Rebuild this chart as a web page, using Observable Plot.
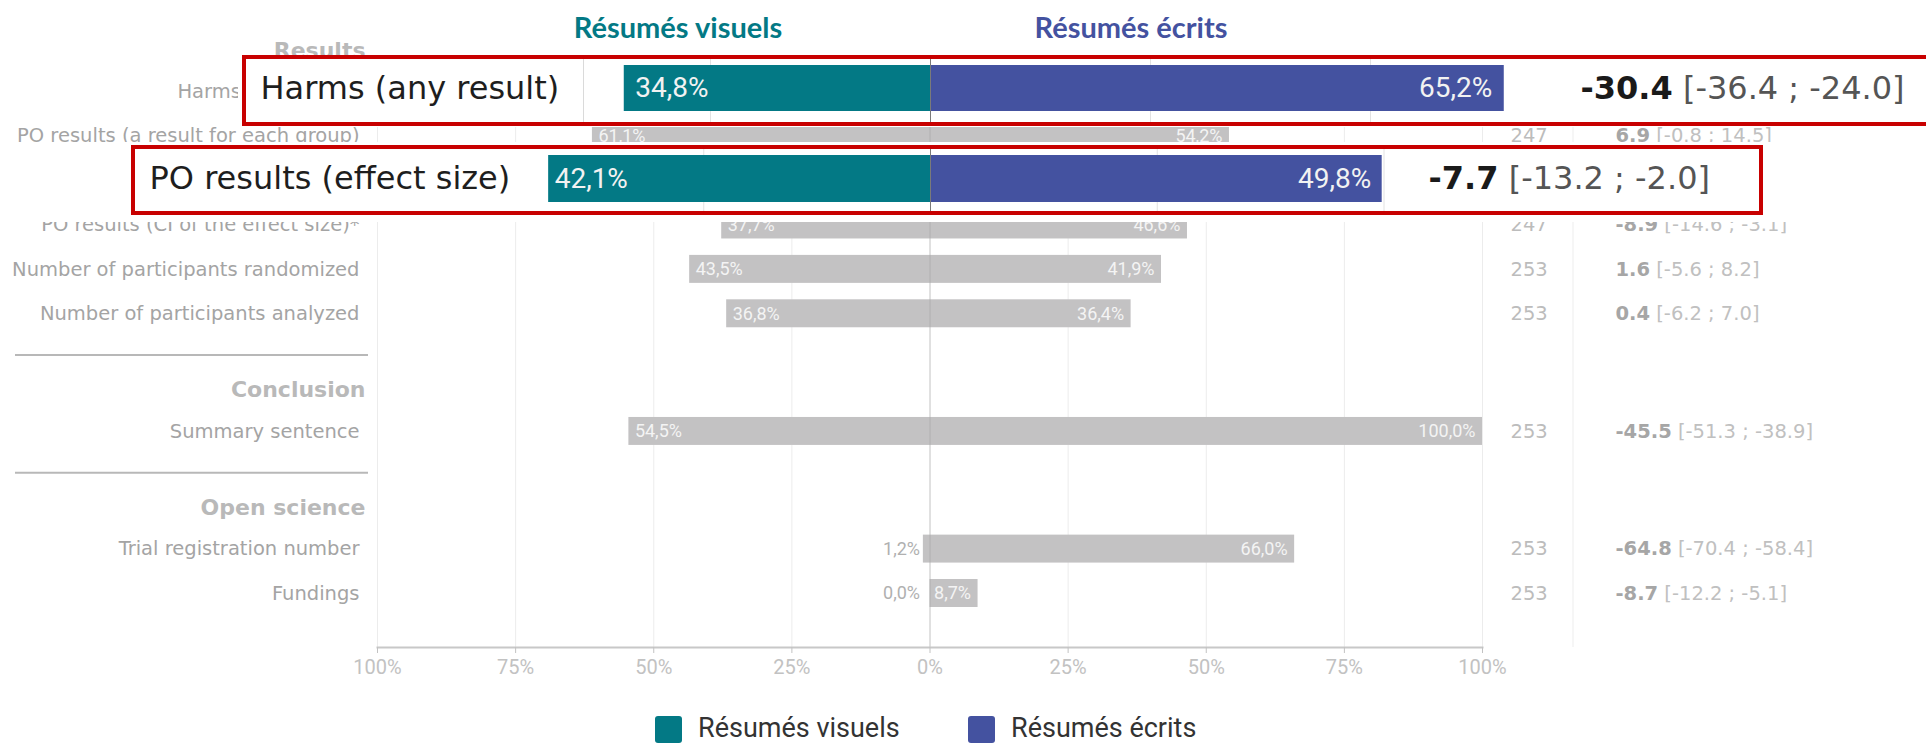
<!DOCTYPE html>
<html>
<head>
<meta charset="utf-8">
<script src="https://cdn.jsdelivr.net/npm/d3@7"></script>
<script src="https://cdn.jsdelivr.net/npm/@observablehq/plot@0.6"></script>
<style>
  html, body { margin: 0; padding: 0; background: #fff; overflow: hidden; }
  #page { position: relative; width: 1926px; height: 743px; overflow: hidden; }
  .abs { position: absolute; }
  .title { position: absolute; top: 11px; font-family: Lato, "Open Sans", sans-serif; font-weight: 700; font-size: 29px; line-height: 32px; transform: translateX(-50%); white-space: nowrap; }
  .legtext { position: absolute; top: 14px; font-family: Roboto, sans-serif; font-size: 27px; line-height: 28px; color: #333; white-space: nowrap; }
  .legsq { position: absolute; top: 16px; width: 27px; height: 27px; border-radius: 3px; }
</style>
</head>
<body>
<div id="page">
  <div id="titles" class="abs" style="left:0;top:0;width:1926px;height:40px;"></div>
  <div id="main" class="abs" style="left:0;top:40px;"></div>
  <div id="overlays"></div>
  <div id="legend" class="abs" style="left:0;top:700px;width:1926px;height:43px;"></div>
</div>
<script>
// ---------------- data ----------------
const seriesNames = ["Résumés visuels", "Résumés écrits"];
const sections = ["Results", "Conclusion", "Open science"];
const rowLabels = [
  "Harms (any result)",
  "PO results (a result for each group)",
  "PO results (effect size)",
  "PO results (CI of the effect size)*",
  "Number of participants randomized",
  "Number of participants analyzed",
  "Summary sentence",
  "Trial registration number",
  "Fundings"
];
const rowSection = ["Results", "Results", "Results", "Results", "Results", "Results", "Conclusion", "Open science", "Open science"];
const visuels = [34.8, 61.1, 42.1, 37.7, 43.5, 36.8, 54.5, 1.2, 0.0];
const ecrits  = [65.2, 54.2, 49.8, 46.6, 41.9, 36.4, 100.0, 66.0, 8.7];
const nTotal  = [245, 247, 247, 247, 253, 253, 253, 253, 253];
const diffs   = [-30.4, 6.9, -7.7, -8.9, 1.6, 0.4, -45.5, -64.8, -8.7];
const ciLow   = [-36.4, -0.8, -13.2, -14.6, -5.6, -6.2, -51.3, -70.4, -12.2];
const ciHigh  = [-24.0, 14.5, -2.0, -3.1, 8.2, 7.0, -38.9, -58.4, -5.1];
const highlighted = ["Harms (any result)", "PO results (effect size)"];
const xTicks = [-100, -75, -50, -25, 0, 25, 50, 75, 100];

// ---------------- styles ----------------
const teal = "#037985", blue = "#4452a0";
const verdana = "'DejaVu Sans', Verdana, sans-serif";
const narrow = "Roboto, sans-serif";
const fmtPct = v => v.toFixed(1).replace(".", ",") + "%";
const fmtNum = v => v.toFixed(1);

// ---------------- layout of rows (slot units) ----------------
const HEADER_TO_ROW = 0.93, ROW_STEP = 1, ROW_TO_SEP = 0.94, SEP_TO_HEADER = 0.78;
let pos = 0;
const headerRows = [], sepSlots = [];
const rows = [];
sections.forEach((s, si) => {
  if (si > 0) { pos += ROW_TO_SEP; sepSlots.push(pos); pos += SEP_TO_HEADER; }
  headerRows.push({section: s, slot: pos});
  let first = true;
  rowLabels.forEach((label, i) => {
    if (rowSection[i] !== s) return;
    pos += first ? HEADER_TO_ROW : ROW_STEP;
    first = false;
    rows.push({label, v: visuels[i], e: ecrits[i], n: nTotal[i], diff: diffs[i], lo: ciLow[i], hi: ciHigh[i], slot: pos});
  });
});
const lastSlot = pos;
const BAR = 0.315;

// rows whose texts are hidden behind a highlight box are drawn in the box instead
const plain = rows.filter(d => !highlighted.includes(d.label));
const labelRows = rows.filter(d => d.label !== highlighted[1]);

// ---------------- titles ----------------
const titles = d3.select("#titles");
[[seriesNames[0], teal, 678], [seriesNames[1], blue, 1131]].forEach(([t, c, x]) => {
  titles.append("div").attr("class", "title").style("left", x + "px").style("color", c).text(t);
});

// ---------------- main chart ----------------
const W = 1926, H = 660;
const leftLabels = plain.filter(d => d.v >= 5);
const outsideLabels = plain.filter(d => d.v < 5);

const main = Plot.plot({
  width: W, height: H,
  marginLeft: 377, marginRight: 444, marginTop: 15, marginBottom: 53,
  x: {domain: [-100, 100], axis: null},
  y: {domain: [0, lastSlot], range: [10, 553], axis: null},
  style: {background: "transparent", fontFamily: narrow, overflow: "visible"},
  marks: [
    Plot.gridX(xTicks.filter(t => t !== 0), {stroke: "#ececec", strokeOpacity: 1}),
    Plot.rectX(rows, {x1: d => -d.v, x2: d => d.e, y1: d => d.slot - BAR, y2: d => d.slot + BAR, fill: "#c3c2c3"}),
    Plot.ruleX([0], {stroke: "#a8a8a8", strokeOpacity: 0.7}),
    Plot.frame({anchor: "bottom", stroke: "#c8c8c8", strokeWidth: 2}),
    Plot.axisX(xTicks, {tickFormat: d => Math.abs(d) + "%", tickSize: 6, tickPadding: 6, color: "#c2c2c2", fontSize: 20, fontFamily: narrow}),
    // bar value labels
    Plot.text(leftLabels, {x: d => -d.v, y: "slot", text: d => fmtPct(d.v), textAnchor: "start", dx: 6, fill: "#f4f4f4", fontSize: 18, fontFamily: narrow}),
    Plot.text(outsideLabels, {x: 0, y: "slot", text: d => fmtPct(d.v), textAnchor: "end", dx: -10, fill: "#b0b0b0", fontSize: 18, fontFamily: narrow}),
    Plot.text(plain, {x: d => d.e, y: "slot", text: d => fmtPct(d.e), textAnchor: "end", dx: -7, fill: "#f4f4f4", fontSize: 18, fontFamily: narrow}),
    // row labels and section headers
    Plot.text(labelRows, {y: "slot", text: "label", frameAnchor: "left", textAnchor: "end", dx: -18, fill: "#a4a4a4", fontSize: 19.5, fontFamily: verdana, className: "rowlabel"}),
    Plot.text(headerRows, {y: "slot", text: "section", frameAnchor: "left", textAnchor: "end", dx: -12, fill: "#b9b9b9", fontSize: 22, fontWeight: "bold", fontFamily: verdana}),
    // right columns
    Plot.text(plain, {y: "slot", text: d => String(d.n), frameAnchor: "right", textAnchor: "start", dx: 28, fill: "#bcbcbc", fontSize: 19.5, fontFamily: verdana}),
    Plot.text(plain, {y: "slot", text: d => fmtNum(d.diff) + "|[" + fmtNum(d.lo) + " ; " + fmtNum(d.hi) + "]", frameAnchor: "right", textAnchor: "start", dx: 133, fill: "#c0c0c0", fontSize: 19.5, fontFamily: verdana, className: "difftext"})
  ]
});
document.getElementById("main").appendChild(main);

function splitDiff(root, boldColor) {
  d3.select(root).selectAll("g.difftext text").each(function() {
    const [a, b] = this.textContent.split("|");
    const sel = d3.select(this);
    sel.text(null);
    sel.append("tspan").attr("font-weight", "bold").attr("fill", boldColor).text(a);
    sel.append("tspan").text(" " + b);
  });
}
splitDiff(main, "#a6a6a6");

// the label of the first highlighted row is covered by its box: keep only its visible first word, in place
d3.select(main).selectAll("g.rowlabel text").each(function() {
  if (this.textContent !== highlighted[0]) return;
  const full = this.getComputedTextLength();
  this.textContent = highlighted[0].split(" ")[0];
  this.setAttribute("text-anchor", "start");
  this.setAttribute("dx", -full);
});

// decorations: section separators and column separator
const ys = main.scale("y");
const svg = d3.select(main);
sepSlots.forEach(s => {
  const yy = ys.apply(s);
  svg.append("line").attr("x1", 15).attr("x2", 368).attr("y1", yy).attr("y2", yy)
    .attr("stroke", "#b8b8b8").attr("stroke-width", 2);
});
svg.insert("line", ":first-child").attr("x1", 1573).attr("x2", 1573).attr("y1", 15).attr("y2", 607)
  .attr("stroke", "#ededed").attr("stroke-width", 1);

// ---------------- highlight overlays ----------------
const overlays = d3.select("#overlays");
const boxes = [
  {label: highlighted[0], white: [238, 55, 1688, 72], border: [242, 55, 1720, 71], top: 55, height: 71,
   band: [10, 56], xRange: [50, 1810], grid: [-25, 25, 50], labelX: 260, diffX: 1580, padL: 11, padR: -12, sep: 583},
  {label: highlighted[1], white: [0, 142, 1926, 80], border: [131, 145, 1632, 70], top: 145, height: 70,
   band: [10, 57], xRange: [23, 1837], grid: [-25, 25, 50], labelX: 149, diffX: 1428, padL: 6, padR: -11, sep: null}
];
boxes.forEach(b => {
  const d = rows.find(r => r.label === b.label);
  overlays.append("div").attr("class", "abs")
    .style("left", b.white[0] + "px").style("top", b.white[1] + "px")
    .style("width", b.white[2] + "px").style("height", b.white[3] + "px").style("background", "#fff");
  overlays.append("div").attr("class", "abs")
    .style("left", b.border[0] + "px").style("top", b.border[1] + "px")
    .style("width", b.border[2] + "px").style("height", b.border[3] + "px")
    .style("box-sizing", "border-box").style("border", "4px solid #c80000");
  if (b.sep) {
    overlays.append("div").attr("class", "abs")
      .style("left", b.sep + "px").style("top", (b.top + 4) + "px")
      .style("width", "1px").style("height", (b.height - 8) + "px").style("background", "#dadada");
  }
  const p = Plot.plot({
    width: W, height: b.height,
    marginLeft: 0, marginRight: 0, marginTop: 4, marginBottom: 4,
    x: {domain: [-100, 100], range: b.xRange, axis: null},
    y: {domain: [d.label], range: b.band, padding: 0, axis: null},
    style: {background: "transparent", overflow: "visible"},
    marks: [
      Plot.ruleX(b.grid, {stroke: "#e2e2e2"}),
      Plot.barX([d], {x1: r => -r.v, x2: 0, y: "label", fill: teal}),
      Plot.barX([d], {x1: 0, x2: r => r.e, y: "label", fill: blue}),
      Plot.ruleX([0], {stroke: "#7a7a7a"}),
      Plot.text([d], {x: r => -r.v, y: "label", text: r => fmtPct(r.v), textAnchor: "start", dx: b.padL, fill: "#f2f2f2", fontSize: 28, fontFamily: narrow}),
      Plot.text([d], {x: r => r.e, y: "label", text: r => fmtPct(r.e), textAnchor: "end", dx: b.padR, fill: "#f2f2f2", fontSize: 28, fontFamily: narrow}),
      Plot.text([d], {y: "label", text: "label", frameAnchor: "left", textAnchor: "start", dx: b.labelX, fill: "#1e1e1e", fontSize: 32, fontFamily: verdana}),
      Plot.text([d], {y: "label", text: r => fmtNum(r.diff) + "|[" + fmtNum(r.lo) + " ; " + fmtNum(r.hi) + "]", frameAnchor: "left", textAnchor: "start", dx: b.diffX, fill: "#555555", fontSize: 32, fontFamily: verdana, className: "difftext"})
    ]
  });
  p.style.position = "absolute";
  p.style.left = "0px";
  p.style.top = b.top + "px";
  overlays.node().appendChild(p);
  splitDiff(p, "#1a1a1a");
});

// ---------------- legend ----------------
const legend = d3.select("#legend");
[[seriesNames[0], teal, 655, 698], [seriesNames[1], blue, 968, 1011]].forEach(([t, c, sx, tx]) => {
  legend.append("div").attr("class", "legsq").style("left", sx + "px").style("background", c);
  legend.append("div").attr("class", "legtext").style("left", tx + "px").text(t);
});
</script>
</body>
</html>
